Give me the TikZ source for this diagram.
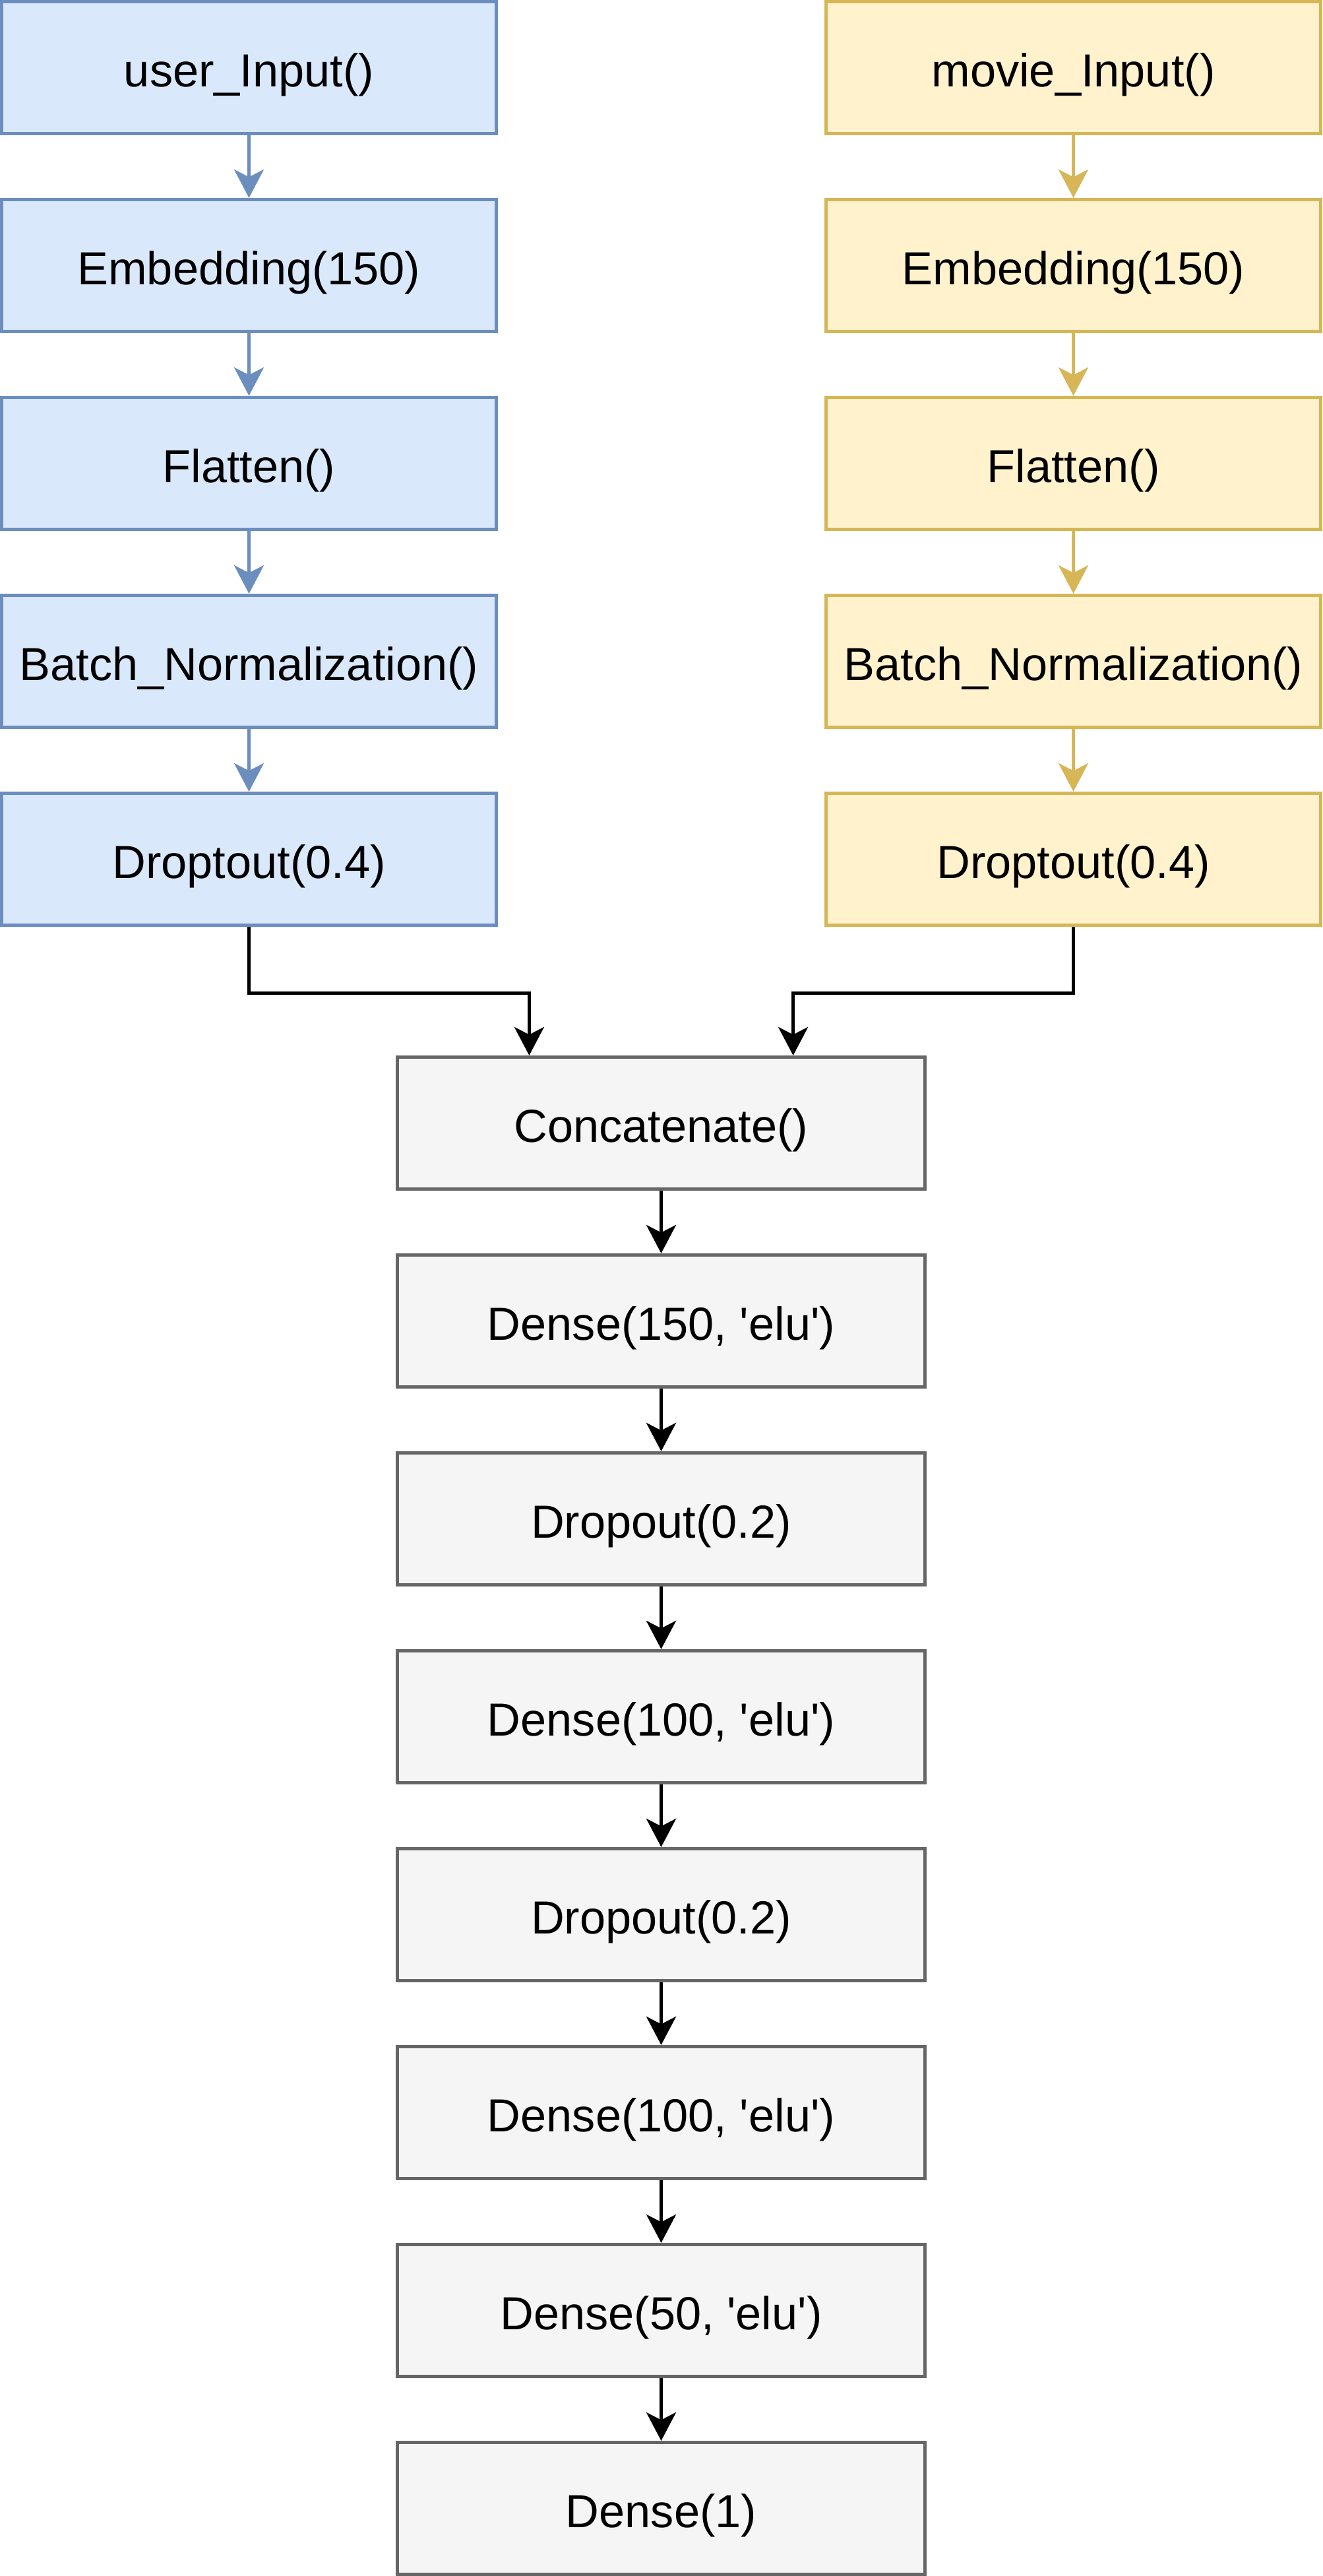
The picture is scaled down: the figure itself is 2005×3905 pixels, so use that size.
\documentclass[tikz,border=0pt]{standalone}
\usepackage{fontspec}
\setmainfont{Liberation Sans}
\usetikzlibrary{arrows.meta}
\definecolor{userfill}{HTML}{DAE8FC}
\definecolor{userline}{HTML}{6C8EBF}
\definecolor{moviefill}{HTML}{FFF2CC}
\definecolor{movieline}{HTML}{D6B656}
\definecolor{mergefill}{HTML}{F5F5F5}
\definecolor{mergeline}{HTML}{666666}
\newcommand{\tick}{\textquotesingle}

\begin{document}
\begin{tikzpicture}[x=0.01cm,y=-0.01cm,
    layer/.style={draw,line width=0.05cm,minimum width=7.5cm,minimum height=2cm,inner sep=0pt,
      text height=0.75cm,text depth=0.18cm,font=\fontsize{20}{24}\selectfont},
    user/.style={layer,fill=userfill,draw=userline},
    movie/.style={layer,fill=moviefill,draw=movieline},
    merged/.style={layer,minimum width=8cm,fill=mergefill,draw=mergeline},
    link/.style={line width=0.05cm,-{Stealth[length=0.43cm,width=0.45cm,inset=0.115cm]}}]
      \useasboundingbox (0,0) rectangle (2005,3905);
      \foreach \pos/\name/\text in { {(377.5,102.5)/uin/{user\_Input()}}, {(377.5,402.5)/uemb/{Embedding(150)}},
        {(377.5,702.5)/uflat/{Flatten()}}, {(377.5,1002.5)/unorm/{Batch\_Normalization()}}, {(377.5,1302.5)/udrop/{Droptout(0.4)}}}
      \node[user] (\name) at \pos {\text};
      \foreach \pos/\name/\text in { {(1627.5,102.5)/min/{movie\_Input()}}, {(1627.5,402.5)/memb/{Embedding(150)}},
        {(1627.5,702.5)/mflat/{Flatten()}}, {(1627.5,1002.5)/mnorm/{Batch\_Normalization()}}, {(1627.5,1302.5)/mdrop/{Droptout(0.4)}}}
      \node[movie] (\name) at \pos {\text};
      \foreach \pos/\name/\text in { {(1002.5,1702.5)/concat/{Concatenate()}}, {(1002.5,2002.5)/dense1/{Dense(150, \tick elu\tick)}},
        {(1002.5,2302.5)/drop1/{Dropout(0.2)}}, {(1002.5,2602.5)/dense2/{Dense(100, \tick elu\tick)}},
        {(1002.5,2902.5)/drop2/{Dropout(0.2)}}, {(1002.5,3202.5)/dense3/{Dense(100, \tick elu\tick)}},
        {(1002.5,3502.5)/dense4/{Dense(50, \tick elu\tick)}}, {(1002.5,3802.5)/out/{Dense(1)}}}
      \node[merged] (\name) at \pos {\text};
      \foreach \source/ \dest in {uin/uemb, uemb/uflat, uflat/unorm, unorm/udrop}
      \path[draw,link,userline] (\source) -- (\dest);
      \foreach \source/ \dest in {min/memb, memb/mflat, mflat/mnorm, mnorm/mdrop}
      \path[draw,link,movieline] (\source) -- (\dest);
      \foreach \source/ \dest in {concat/dense1, dense1/drop1, drop1/dense2, dense2/drop2, drop2/dense3, dense3/dense4, dense4/out}
      \path[draw,link] (\source) -- (\dest);
      \path[draw,link] (udrop.south) -- ++(0,100) -| ([xshift=-2cm]concat.north);
      \path[draw,link] (mdrop.south) -- ++(0,100) -| ([xshift=2cm]concat.north);
    \end{tikzpicture}
\end{document}
